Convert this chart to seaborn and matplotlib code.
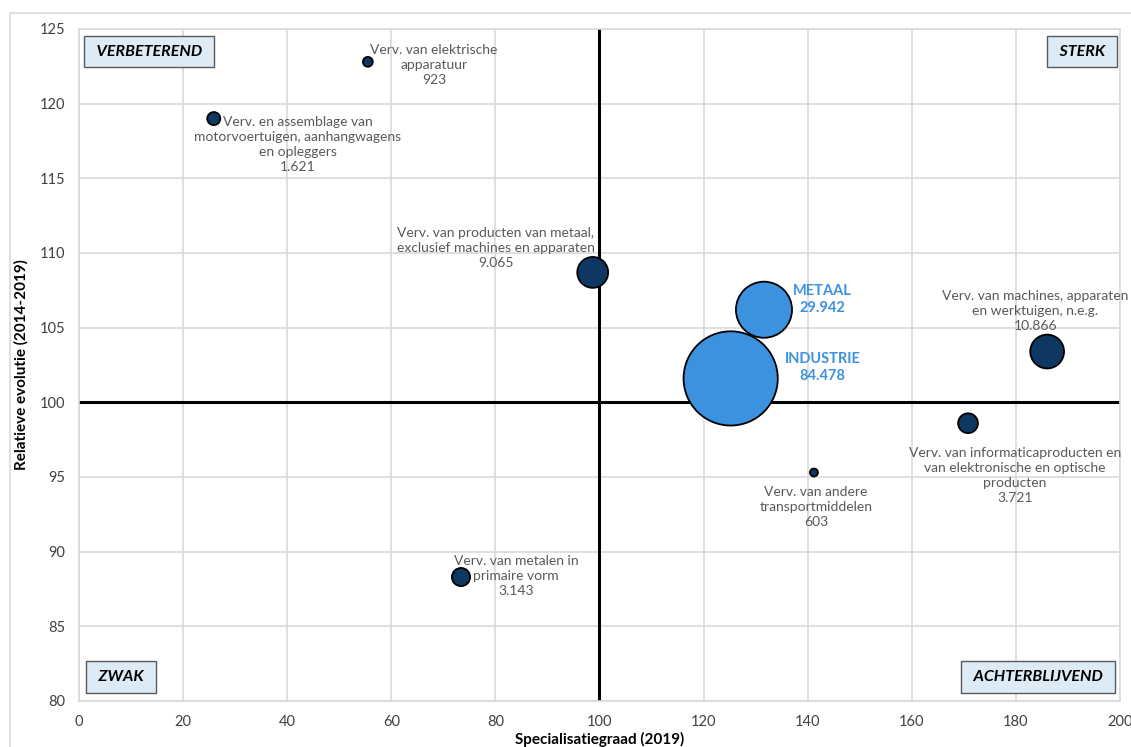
import matplotlib
matplotlib.use("Agg")
import matplotlib.pyplot as plt
from matplotlib.patches import Rectangle
import seaborn as sns
import pandas as pd

# Sector data: specialisation degree (2019), relative evolution (2014-2019), employment
sectors = [
    "Verv. van elektrische\napparatuur",
    "Verv. en assemblage van\nmotorvoertuigen, aanhangwagens\nen opleggers",
    "Verv. van producten van metaal,\nexclusief machines en apparaten",
    "METAAL",
    "INDUSTRIE",
    "Verv. van machines, apparaten\nen werktuigen, n.e.g.",
    "Verv. van informaticaproducten en\nvan elektronische en optische\nproducten",
    "Verv. van andere\ntransportmiddelen",
    "Verv. van metalen in\nprimaire vorm",
]
specialisatie = [55.5, 25.9, 98.7, 131.6, 125.2, 186.0, 170.8, 141.2, 73.4]
evolutie = [122.8, 119.0, 108.7, 106.2, 101.6, 103.4, 98.6, 95.3, 88.3]
tewerkstelling = [923, 1621, 9065, 29942, 84478, 10866, 3721, 603, 3143]
value_labels = ["923", "1.621", "9.065", "29.942", "84.478", "10.866", "3.721", "603", "3.143"]
groep = ["sub", "sub", "sub", "totaal", "totaal", "sub", "sub", "sub", "sub"]

quadrants = ["VERBETEREND", "STERK", "ZWAK", "ACHTERBLIJVEND"]

df = pd.DataFrame({
    "sector": sectors,
    "x": specialisatie,
    "y": evolutie,
    "n": tewerkstelling,
    "lbl": value_labels,
    "groep": groep,
})

DARK = "#0E3862"
LIGHT = "#3D92E0"
TEXT = "#595959"
GRID = "#D9D9D9"

sns.set_theme(style="white")
plt.rcParams["font.family"] = ["Lato", "DejaVu Sans"]

fig = plt.figure(figsize=(11.31, 7.47), dpi=100)
ax = fig.add_axes([0.0698, 0.0616, 0.9205, 0.8996])

# outer chart frame
fig.patches.append(Rectangle((10 / 1131, -0.5), 2.0, 1.5 - 13 / 747,
                             transform=fig.transFigure, fill=False,
                             edgecolor=GRID, linewidth=1.2, zorder=0))

ax.set_xlim(0, 200)
ax.set_ylim(80, 125)
ax.set_xticks(range(0, 201, 20))
ax.set_yticks(range(80, 126, 5))
ax.grid(True, color=GRID, linewidth=1.2)
ax.set_axisbelow(True)
for sp in ax.spines.values():
    sp.set_color(GRID)
    sp.set_linewidth(1.2)
ax.tick_params(axis="both", length=0, labelsize=10.5, colors="#404040", pad=10)

# quadrant axes
ax.plot([100, 100], [80, 125], color="black", linewidth=2.2, zorder=2)
ax.plot([0, 200], [100, 100], color="black", linewidth=2.2, zorder=2)

# bubbles: area proportional to employment
smax = 4600
sns.scatterplot(data=df, x="x", y="y", size="n", hue="groep",
                palette={"sub": DARK, "totaal": LIGHT},
                sizes=(0, smax), size_norm=(0, max(tewerkstelling)),
                edgecolor="black", linewidth=1.3, alpha=1, legend=False,
                ax=ax, zorder=3)

# label offsets in points relative to each bubble
offsets = [(47.5, -2.5), (60.5, -18.7), (-69.8, 17.3), (41.8, 7.2), (66.2, 7.9),
           (-8.6, 29.5), (33.8, -37.4), (1.4, -24.5), (39.6, 0.7)]
for (_, r), off in zip(df.iterrows(), offsets):
    bold = r["groep"] == "totaal"
    ax.annotate(f"{r['sector']}\n{r['lbl']}", (r["x"], r["y"]),
                xytext=off, textcoords="offset points",
                ha="center", va="center", fontsize=10.5 if bold else 10,
                color=LIGHT if bold else TEXT,
                fontweight="bold" if bold else "normal",
                linespacing=1.3, zorder=5)

# quadrant names in light-blue boxes
box = dict(boxstyle="square,pad=0.55", facecolor="#DDEBF7", edgecolor="#595959", linewidth=1)
qpos = [(0.0132, 0.9766, "left", "top"), (0.9888, 0.9766, "right", "top"),
        (0.0151, 0.0249, "left", "bottom"), (0.9868, 0.0249, "right", "bottom")]
for name, (qx, qy, ha, va) in zip(quadrants, qpos):
    ax.text(qx, qy, f" {name} ", transform=ax.transAxes, ha=ha, va=va, fontsize=11.5,
            fontweight="bold", fontstyle="italic", color="black", bbox=box, zorder=6)

ax.set_xlabel("Specialisatiegraad (2019)", fontsize=11, fontweight="bold", color="black", labelpad=2)
ax.set_ylabel("Relatieve evolutie (2014-2019)", fontsize=11, fontweight="bold", color="black", labelpad=8)

fig.savefig("out.png", dpi=100)
